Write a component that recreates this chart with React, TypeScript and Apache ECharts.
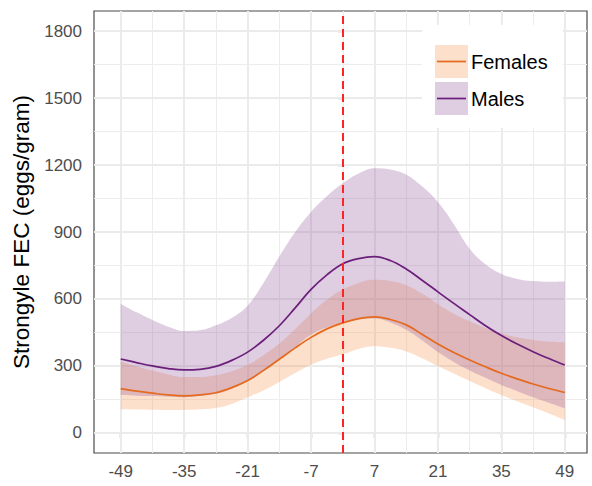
import React, { useEffect, useRef } from 'react';
import * as echarts from 'echarts';

// Days relative to event (x axis), read every 3.5 days
const days = [
  -49, -45.5, -42, -38.5, -35, -31.5, -28, -24.5, -21, -17.5, -14, -10.5, -7, -3.5, 0,
  3.5, 7, 10.5, 14, 17.5, 21, 24.5, 28, 31.5, 35, 38.5, 42, 45.5, 49,
];

// Females: fitted mean and confidence band
const femaleMean = [
  198, 187, 178, 170, 166, 170, 180, 203, 235, 280, 330, 381, 428, 466, 493,
  512, 520, 508, 484, 442, 398, 360, 327, 296, 267, 242, 219, 199, 181,
];
const femaleLower = [
  106, 105, 104, 103, 103, 106, 112, 130, 160, 190, 228, 268, 305, 332, 352,
  376, 388, 381, 365, 335, 300, 266, 232, 200, 170, 142, 115, 87, 58,
];
const femaleUpper = [
  319, 298, 280, 262, 250, 250, 258, 276, 305, 348, 400, 465, 535, 596, 642,
  672, 686, 681, 662, 624, 576, 534, 500, 470, 446, 428, 416, 409, 405,
];

// Males: fitted mean and confidence band
const maleMean = [
  331, 315, 300, 288, 282, 285, 298, 325, 362, 415, 480, 560, 643, 708, 758,
  781, 790, 772, 734, 684, 632, 580, 530, 480, 436, 398, 364, 333, 304,
];
const maleLower = [
  170, 167, 165, 162, 160, 165, 175, 198, 230, 275, 330, 385, 440, 472, 492,
  508, 512, 495, 462, 415, 362, 318, 280, 247, 215, 187, 160, 135, 110,
];
const maleUpper = [
  578, 540, 506, 476, 457, 460, 482, 515, 570, 672, 790, 900, 990, 1060, 1118,
  1162, 1186, 1180, 1157, 1105, 1034, 935, 825, 755, 712, 690, 680, 677, 678,
];

// Axis ticks and grid lines
const xTicks = [-49, -35, -21, -7, 7, 21, 35, 49];
const xMinor = [-42, -28, -14, 0, 14, 28, 42];
const yTicks = [0, 300, 600, 900, 1200, 1500, 1800];
const yMinor = [150, 450, 750, 1050, 1350, 1650];
const eventDay = [0];

const legendLabels = ['Females', 'Males'];

const FONT = "'Liberation Sans', Arial, sans-serif";
const ORANGE_LINE = '#E5691E';
const PURPLE_LINE = '#6B1F7B';
const ORANGE_FILL = 'rgba(248,152,82,0.3)';
const PURPLE_FILL = 'rgba(148,88,155,0.3)';
const SMOOTH = 0.4;

// value first, day second: stacking then happens on the value (y) dimension
const pairs = (ys: number[]) => days.map((d, i) => [ys[i], d]);
const diffs = (hi: number[], lo: number[]) => days.map((d, i) => [hi[i] - lo[i], d]);

export default function App() {
  const ref = useRef<HTMLDivElement>(null);

  useEffect(() => {
    const chart = echarts.init(ref.current!, null, { renderer: 'svg' });

    const gridLines = [
      ...xTicks.map((v) => ({ xAxis: v, lineStyle: { color: '#EBEBEB', width: 2, type: 'solid' } })),
      ...xMinor.map((v) => ({ xAxis: v, lineStyle: { color: '#EDEDED', width: 1, type: 'solid' } })),
      ...yTicks.map((v) => ({ yAxis: v, lineStyle: { color: '#EBEBEB', width: 2, type: 'solid' } })),
      ...yMinor.map((v) => ({ yAxis: v, lineStyle: { color: '#EDEDED', width: 1, type: 'solid' } })),
    ];

    const bandBase = {
      type: 'line',
      smooth: SMOOTH,
      symbol: 'none',
      showSymbol: false,
      silent: true,
      z: 2,
      encode: { x: 1, y: 0 },
      lineStyle: { width: 0, opacity: 0 },
    };

    const T = 100;
    const option: any = {
      animation: false,
      backgroundColor: '#FFFFFF',
      grid: {
        left: 94,
        right: 5,
        top: 11,
        bottom: 33,
        show: true,
        backgroundColor: '#FFFFFF',
        borderColor: '#4A4A4A',
        borderWidth: 1.2,
      },
      xAxis: {
        type: 'value',
        min: -54.9,
        max: 53.9,
        axisLine: { show: false },
        splitLine: { show: false },
        axisTick: {
          show: true,
          customValues: xTicks,
          length: 5,
          lineStyle: { color: '#333333', width: 1.2 },
        },
        axisLabel: {
          customValues: xTicks,
          formatter: (v: number) => String(v),
          fontSize: 17,
          fontFamily: FONT,
          color: '#4D4D4D',
          margin: 10,
        },
      },
      yAxis: {
        type: 'value',
        min: -90,
        max: 1890,
        axisLine: { show: false },
        splitLine: { show: false },
        axisTick: {
          show: true,
          customValues: yTicks,
          length: 5,
          lineStyle: { color: '#333333', width: 1.2 },
        },
        axisLabel: {
          customValues: yTicks,
          formatter: (v: number) => String(v),
          fontSize: 17,
          fontFamily: FONT,
          color: '#4D4D4D',
          margin: 12,
        },
        name: 'Strongyle FEC (eggs/gram)',
        nameLocation: 'middle',
        nameRotate: 90,
        nameGap: 58,
        nameTextStyle: { fontSize: 22.5, fontFamily: FONT, color: '#000000' },
      },
      series: [
        { ...bandBase, name: 'fLower', stack: 'female', data: pairs(femaleLower) },
        { ...bandBase, name: 'fBand', stack: 'female', data: diffs(femaleUpper, femaleLower), areaStyle: { color: ORANGE_FILL, opacity: 1 } },
        { ...bandBase, name: 'mLower', stack: 'male', z: 3, data: pairs(maleLower) },
        { ...bandBase, name: 'mBand', stack: 'male', z: 3, data: diffs(maleUpper, maleLower), areaStyle: { color: PURPLE_FILL, opacity: 1 } },
        {
          type: 'line',
          name: legendLabels[0],
          smooth: SMOOTH,
          symbol: 'none',
          silent: true,
          z: 4,
          encode: { x: 1, y: 0 },
          data: pairs(femaleMean),
          lineStyle: { color: ORANGE_LINE, width: 1.7 },
          markLine: {
            silent: true,
            symbol: ['none', 'none'],
            label: { show: false },
            z: 1,
            animation: false,
            data: gridLines,
          },
        },
        {
          type: 'line',
          name: legendLabels[1],
          smooth: SMOOTH,
          symbol: 'none',
          silent: true,
          z: 4,
          encode: { x: 1, y: 0 },
          data: pairs(maleMean),
          lineStyle: { color: PURPLE_LINE, width: 1.7 },
          markLine: {
            silent: true,
            symbol: ['none', 'none'],
            label: { show: false },
            z: 10,
            animation: false,
            data: eventDay.map((v) => ({ xAxis: v })),
            lineStyle: { color: '#FF2424', width: 2, type: [8, 5] },
          },
        },
      ],
      graphic: [
        { type: 'rect', z: T, shape: { x: 422, y: 25, width: 141, height: 103 }, style: { fill: '#FFFFFF' } },
        { type: 'rect', z: T + 1, shape: { x: 435, y: 45, width: 33, height: 33 }, style: { fill: ORANGE_FILL } },
        { type: 'line', z: T + 2, shape: { x1: 437, y1: 61.5, x2: 466, y2: 61.5 }, style: { stroke: ORANGE_LINE, lineWidth: 1.7 } },
        { type: 'text', z: T + 2, x: 471, y: 62, style: { text: legendLabels[0], fontSize: 20, fontFamily: FONT, fill: '#000000', verticalAlign: 'middle', align: 'left' } },
        { type: 'rect', z: T + 1, shape: { x: 435, y: 82, width: 33, height: 33 }, style: { fill: PURPLE_FILL } },
        { type: 'line', z: T + 2, shape: { x1: 437, y1: 98.5, x2: 466, y2: 98.5 }, style: { stroke: PURPLE_LINE, lineWidth: 1.7 } },
        { type: 'text', z: T + 2, x: 471, y: 99, style: { text: legendLabels[1], fontSize: 20, fontFamily: FONT, fill: '#000000', verticalAlign: 'middle', align: 'left' } },
      ],
    };

    chart.setOption(option);
    return () => chart.dispose();
  }, []);

  return <div ref={ref} style={{ position: 'absolute', left: 0, top: 0, width: 592, height: 486 }} />;
}
